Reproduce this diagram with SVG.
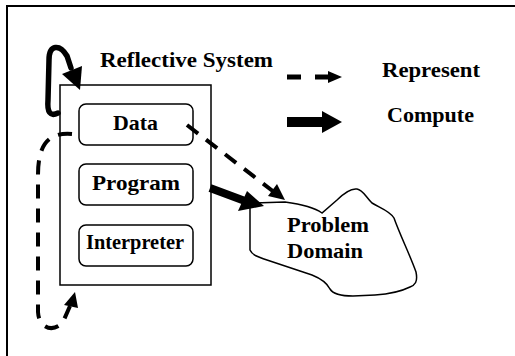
<svg xmlns="http://www.w3.org/2000/svg" width="515" height="356" viewBox="0 0 515 356">
<style>
.t{font-family:"Liberation Serif","Times New Roman",serif;font-weight:bold;font-size:21px;fill:#000}
.box{fill:#fff;stroke:#000;stroke-width:1.5}
.dash{fill:none;stroke:#000;stroke-width:4;stroke-dasharray:14 10}
.thick{fill:none;stroke:#000;stroke-linecap:round}
.head{fill:#000;stroke:none}
</style>
<rect width="515" height="356" fill="#fff"/>
<g id="frame"><path d="M7 356 V6 H515" fill="none" stroke="#000" stroke-width="2"/></g>
<g id="reflective-system">
<rect class="box" x="60" y="85" width="151" height="200"/>
<text class="t" x="100" y="67" textLength="173" lengthAdjust="spacingAndGlyphs">Reflective System</text>
</g>
<g id="data"><rect class="box" x="79" y="104" width="114" height="41" rx="7"/><text class="t" x="113" y="130" textLength="45" lengthAdjust="spacingAndGlyphs">Data</text></g>
<g id="program"><rect class="box" x="79" y="164" width="114" height="41" rx="7"/><text class="t" x="92" y="190" textLength="88" lengthAdjust="spacingAndGlyphs">Program</text></g>
<g id="interpreter"><rect class="box" x="79" y="225" width="114" height="41" rx="7"/><text class="t" x="86" y="249" textLength="98" lengthAdjust="spacingAndGlyphs">Interpreter</text></g>
<g id="problem-domain">
<path d="M250 203 L285 202 C300 204 315 208 322 213 L337 200 C345 192 351 188 357 189 C363 190 365 196 372 203 C380 208 390 211 394 218 C400 235 410 255 416 272 C418 282 415 285 410 287 C400 292 390 294 375 295 L353 296 C340 296 333 294 330 289 C327 283 322 279 312 275 L267 260 C258 257 252 255 250 250 Z" fill="#fff" stroke="#000" stroke-width="1.5"/>
<text class="t" x="287" y="232" textLength="82" lengthAdjust="spacingAndGlyphs">Problem</text>
<text class="t" x="287" y="258" textLength="76" lengthAdjust="spacingAndGlyphs">Domain</text>
</g>
<g id="legend">
<path d="M287 77 H329" fill="none" stroke="#000" stroke-width="5" stroke-dasharray="14 14"/>
<polygon class="head" points="328,71 342,77 328,83"/>
<text class="t" x="382" y="77" textLength="98" lengthAdjust="spacingAndGlyphs">Represent</text>
<rect x="287" y="117" width="37" height="10" fill="#000"/>
<polygon class="head" points="322,111 342,122 322,133"/>
<text class="t" x="387" y="122" textLength="87" lengthAdjust="spacingAndGlyphs">Compute</text>
</g>
<g id="connectors">
<path class="thick" stroke-width="5.5" d="M58 113 C50 117 47 112 48 100 L49 60 C49 44 60 44 67 56 L71 68"/>
<polygon class="head" points="62,74 82,66 80,90"/>
<path class="dash" d="M72 134 C48 132 38 145 38 175 L38 312 C39 330 55 332 63 322 L70 306"/>
<polygon class="head" points="64,305 75,292 78,308"/>
<path class="dash" d="M187 125 L274 192"/>
<polygon class="head" points="268,196 277,184 285,200"/>
<path d="M210 188 L245 201" stroke="#000" stroke-width="8" fill="none"/>
<polygon class="head" points="238,211 247,191 264,206"/>
</g>
</svg>
